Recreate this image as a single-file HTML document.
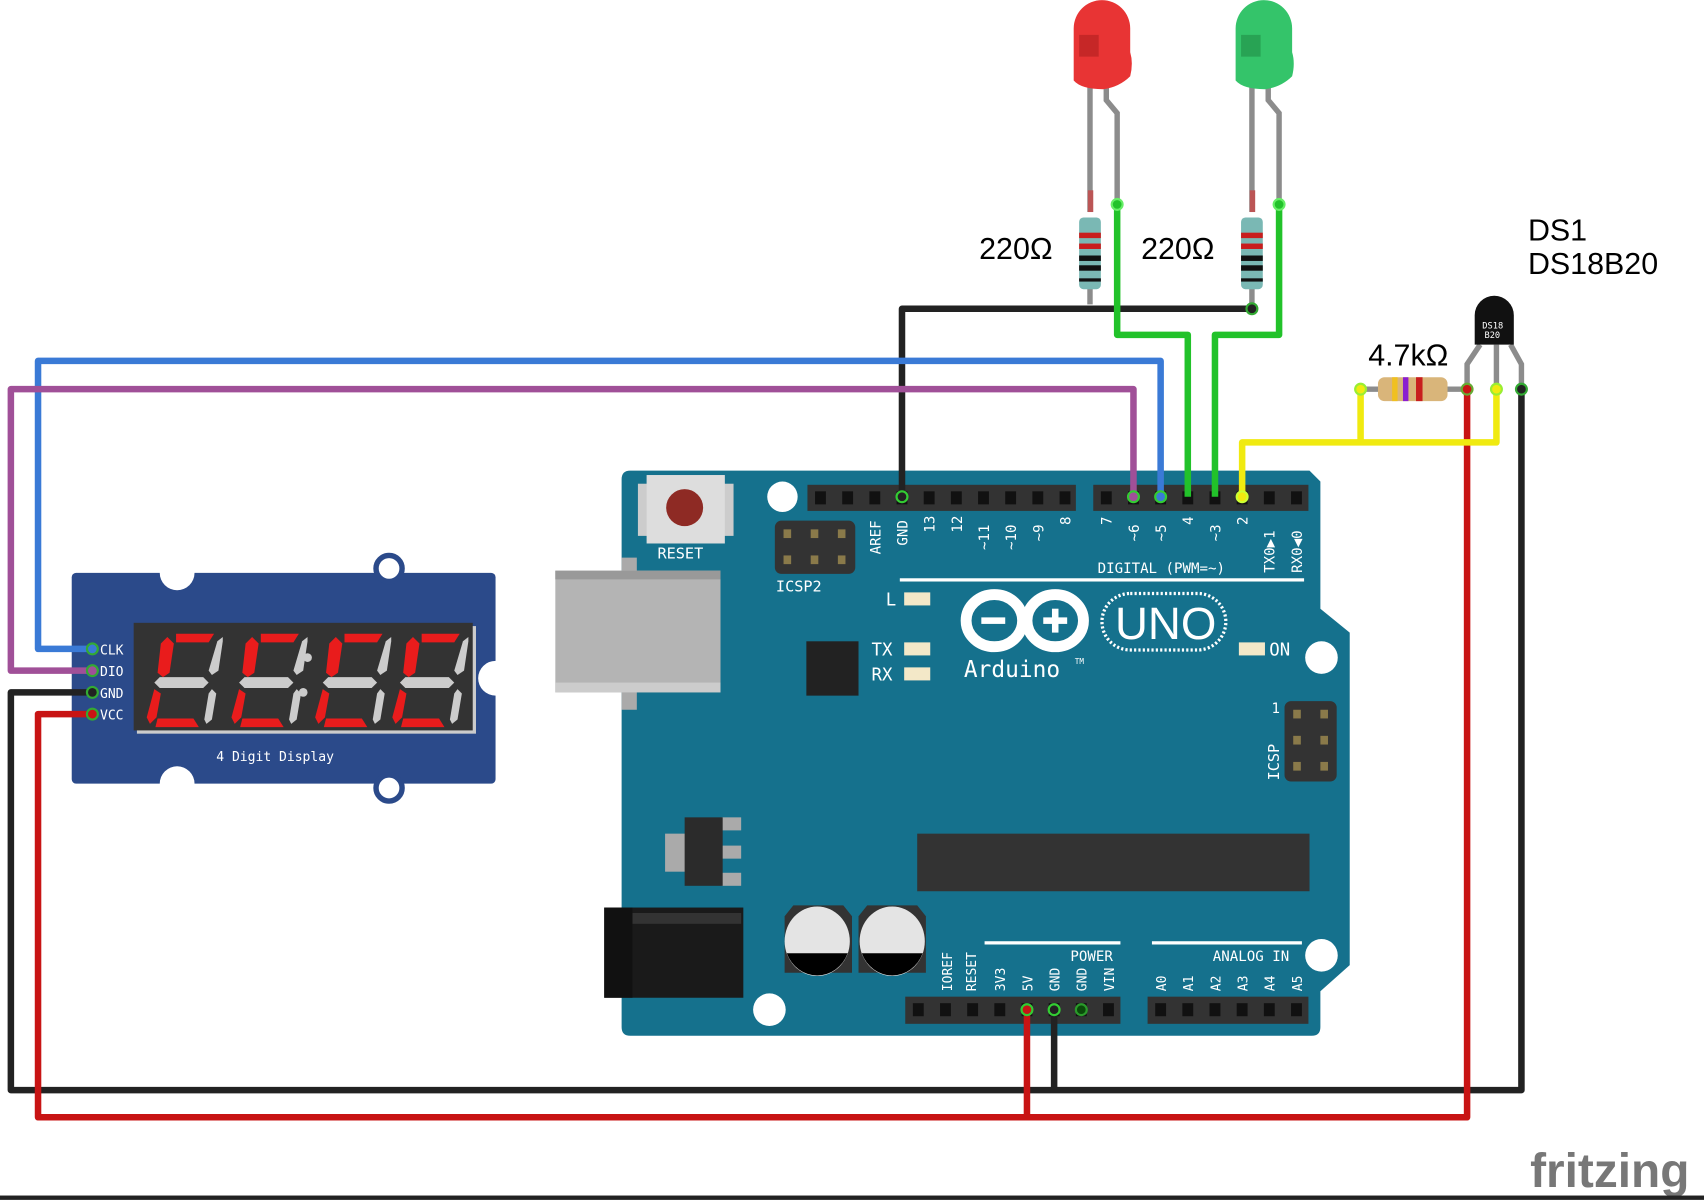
<!DOCTYPE html>
<html><head><meta charset="utf-8"><style>
html,body{margin:0;padding:0;background:#fff;width:1704px;height:1200px;overflow:hidden}
svg{display:block}
text{font-family:"Liberation Sans",sans-serif}
.m{font-family:"DejaVu Sans Mono","Liberation Mono",monospace;fill:#fff}
</style></head><body>
<svg width="1704" height="1200" viewBox="0 0 1568 1104" xmlns="http://www.w3.org/2000/svg">
<rect width="1568" height="1104" fill="#fff"/>
<path d="M580,433 H1205 L1215,443 V560 L1242,582 V888 L1215,912 V945 Q1215,953 1207,953 H580 Q572,953 572,945 V441 Q572,433 580,433Z" fill="#15718d"/>
<circle cx="720" cy="457" r="14" fill="#fff"/><circle cx="1216" cy="605" r="15" fill="#fff"/><circle cx="1216" cy="879" r="15" fill="#fff"/><circle cx="708" cy="929" r="15" fill="#fff"/>
<rect x="587" y="445" width="88" height="48" fill="#ccc"/><rect x="595" y="437" width="72" height="63" fill="#ddd"/>
<circle cx="630" cy="467" r="17" fill="#8e2a24"/>
<text x="605" y="514" class="m" font-size="14">RESET</text>
<rect x="713" y="479" width="74" height="49" rx="6" fill="#333"/>
<g fill="#8a7a4a"><rect x="721" y="487" width="7" height="8"/><rect x="746" y="487" width="7" height="8"/><rect x="771" y="487" width="7" height="8"/><rect x="721" y="511" width="7" height="8"/><rect x="746" y="511" width="7" height="8"/><rect x="771" y="511" width="7" height="8"/></g>
<text x="714" y="544" class="m" font-size="14">ICSP2</text>
<rect x="572" y="513" width="14" height="140" fill="#aaa"/>
<rect x="511" y="525" width="152" height="112" fill="#b4b4b4"/><rect x="511" y="525" width="152" height="8" fill="#999"/><rect x="511" y="628" width="152" height="9" fill="#ccc"/>
<rect x="742" y="590" width="48" height="50" fill="#222"/>
<rect x="743" y="446" width="247" height="24" fill="#333"/><rect x="1006" y="446" width="198" height="24" fill="#333"/>
<g fill="#111">
<rect x="750" y="452" width="10" height="12"/><rect x="775" y="452" width="10" height="12"/><rect x="800" y="452" width="10" height="12"/><rect x="825" y="452" width="10" height="12"/><rect x="850" y="452" width="10" height="12"/><rect x="875" y="452" width="10" height="12"/><rect x="900" y="452" width="10" height="12"/><rect x="925" y="452" width="10" height="12"/><rect x="950" y="452" width="10" height="12"/><rect x="975" y="452" width="10" height="12"/>
<rect x="1013" y="452" width="10" height="12"/><rect x="1038" y="452" width="10" height="12"/><rect x="1063" y="452" width="10" height="12"/><rect x="1088" y="452" width="10" height="12"/><rect x="1113" y="452" width="10" height="12"/><rect x="1138" y="452" width="10" height="12"/><rect x="1163" y="452" width="10" height="12"/><rect x="1188" y="452" width="10" height="12"/>
</g>
<g class="m" font-size="13">
<text transform="translate(810,510) rotate(-90)" class="m">AREF</text>
<text transform="translate(835,502) rotate(-90)" class="m">GND</text>
<text transform="translate(860,490) rotate(-90)" class="m">13</text>
<text transform="translate(885,490) rotate(-90)" class="m">12</text>
<text transform="translate(910,506) rotate(-90)" class="m">~11</text>
<text transform="translate(935,506) rotate(-90)" class="m">~10</text>
<text transform="translate(960,498) rotate(-90)" class="m">~9</text>
<text transform="translate(985,483) rotate(-90)" class="m">8</text>
<text transform="translate(1023,483) rotate(-90)" class="m">7</text>
<text transform="translate(1048,498) rotate(-90)" class="m">~6</text>
<text transform="translate(1073,498) rotate(-90)" class="m">~5</text>
<text transform="translate(1098,483) rotate(-90)" class="m">4</text>
<text transform="translate(1123,498) rotate(-90)" class="m">~3</text>
<text transform="translate(1148,483) rotate(-90)" class="m">2</text>
<text transform="translate(1173,527) rotate(-90)" class="m">TX0▶1</text>
<text transform="translate(1198,527) rotate(-90)" class="m">RX0◀0</text>
</g>
<text x="1010" y="527" class="m" font-size="13">DIGITAL (PWM=~)</text>
<rect x="828" y="532" width="372" height="3" fill="#fff"/>
<text x="815" y="557" class="m" font-size="16">L</text><rect x="832" y="545" width="24" height="12" fill="#f3e8c8"/>
<text x="802" y="603" class="m" font-size="16">TX</text><rect x="832" y="591" width="24" height="12" fill="#f3e8c8"/>
<text x="802" y="626" class="m" font-size="16">RX</text><rect x="832" y="614" width="24" height="12" fill="#f3e8c8"/>
<rect x="1140" y="591" width="24" height="12" fill="#f3e8c8"/><text x="1168" y="603" class="m" font-size="16">ON</text>
<g fill="none" stroke="#fff" stroke-width="10"><ellipse cx="915" cy="571" rx="26" ry="24"/><ellipse cx="971" cy="571" rx="26" ry="24"/></g>
<rect x="903" y="568" width="22" height="6" fill="#fff"/><rect x="960" y="568" width="22" height="6" fill="#fff"/><rect x="968" y="560" width="6" height="22" fill="#fff"/>
<rect x="1014" y="546" width="114" height="52" rx="26" fill="none" stroke="#fff" stroke-width="3" stroke-dasharray="2 2"/>
<text x="1026" y="588" font-size="42" fill="#fff" font-family="Liberation Sans">UNO</text>
<text x="887" y="623" class="m" font-size="21">Arduino</text><text x="989" y="611" class="m" font-size="7">TM</text>
<text x="1170" y="656" class="m" font-size="13">1</text>
<rect x="1182" y="645" width="48" height="74" rx="6" fill="#333"/>
<g fill="#8a7a4a"><rect x="1190" y="653" width="7" height="8"/><rect x="1215" y="653" width="7" height="8"/><rect x="1190" y="677" width="7" height="8"/><rect x="1215" y="677" width="7" height="8"/><rect x="1190" y="701" width="7" height="8"/><rect x="1215" y="701" width="7" height="8"/></g>
<text transform="translate(1177,718) rotate(-90)" class="m" font-size="14">ICSP</text>
<rect x="844" y="767" width="361" height="53" fill="#333"/>
<rect x="612" y="767" width="20" height="35" fill="#aaa"/><rect x="664" y="752" width="18" height="12" fill="#aaa"/><rect x="664" y="778" width="18" height="12" fill="#aaa"/><rect x="664" y="803" width="18" height="12" fill="#aaa"/>
<rect x="630" y="752" width="35" height="63" fill="#2b2b2b"/>
<rect x="556" y="835" width="128" height="83" fill="#1a1a1a"/><rect x="582" y="840" width="100" height="10" fill="#333"/><rect x="556" y="835" width="26" height="83" fill="#111"/>
<path d="M730,833 H776 L784,843 V895 H722 V843Z" fill="#333"/><ellipse cx="752" cy="866" rx="30" ry="32" fill="#e4e4e4"/><path d="M724,877 H780 A30,32 0 0 1 724,877Z" fill="#000"/>
<path d="M798,833 H844 L852,843 V895 H790 V843Z" fill="#333"/><ellipse cx="821" cy="866" rx="30" ry="32" fill="#e4e4e4"/><path d="M793,877 H849 A30,32 0 0 1 793,877Z" fill="#000"/>
<rect x="906" y="866" width="125" height="3" fill="#fff"/><rect x="1060" y="866" width="138" height="3" fill="#fff"/>
<text x="985" y="884" class="m" font-size="13">POWER</text><text x="1116" y="884" class="m" font-size="13">ANALOG IN</text>
<g class="m" font-size="12">
<text transform="translate(876,912) rotate(-90)" class="m">IOREF</text>
<text transform="translate(898,912) rotate(-90)" class="m">RESET</text>
<text transform="translate(925,912) rotate(-90)" class="m">3V3</text>
<text transform="translate(950,912) rotate(-90)" class="m">5V</text>
<text transform="translate(975,912) rotate(-90)" class="m">GND</text>
<text transform="translate(1000,912) rotate(-90)" class="m">GND</text>
<text transform="translate(1025,912) rotate(-90)" class="m">VIN</text>
<text transform="translate(1073,912) rotate(-90)" class="m">A0</text>
<text transform="translate(1098,912) rotate(-90)" class="m">A1</text>
<text transform="translate(1123,912) rotate(-90)" class="m">A2</text>
<text transform="translate(1148,912) rotate(-90)" class="m">A3</text>
<text transform="translate(1173,912) rotate(-90)" class="m">A4</text>
<text transform="translate(1198,912) rotate(-90)" class="m">A5</text>
</g>
<rect x="833" y="917" width="198" height="25" fill="#333"/><rect x="1056" y="917" width="148" height="25" fill="#333"/>
<g fill="#111">
<rect x="840" y="923" width="10" height="12"/><rect x="865" y="923" width="10" height="12"/><rect x="890" y="923" width="10" height="12"/><rect x="915" y="923" width="10" height="12"/><rect x="940" y="923" width="10" height="12"/><rect x="965" y="923" width="10" height="12"/><rect x="990" y="923" width="10" height="12"/><rect x="1015" y="923" width="10" height="12"/>
<rect x="1063" y="923" width="10" height="12"/><rect x="1088" y="923" width="10" height="12"/><rect x="1113" y="923" width="10" height="12"/><rect x="1138" y="923" width="10" height="12"/><rect x="1163" y="923" width="10" height="12"/><rect x="1188" y="923" width="10" height="12"/>
</g>
<circle cx="995" cy="929" r="5" fill="#0a4a0a" stroke="#2a9a2a" stroke-width="2"/>
<rect x="66" y="527" width="390" height="194" rx="4" fill="#2b4a8a"/>
<circle cx="163" cy="527" r="16" fill="#fff"/><circle cx="163" cy="721" r="16" fill="#fff"/><circle cx="456" cy="624" r="16" fill="#fff"/>
<circle cx="358" cy="523" r="12" fill="#fff" stroke="#2b4a8a" stroke-width="5"/><circle cx="358" cy="725" r="12" fill="#fff" stroke="#2b4a8a" stroke-width="5"/>
<rect x="126" y="576" width="312" height="99" fill="#ccc"/><rect x="123" y="573" width="312" height="99" fill="#333"/>
<g id="dg">
<path d="M162,583 h35 l-5,8 h-30 z" fill="#e91c1c"/>
<path d="M148,592 l6,-6 l6,6 l-4,27 l-6,4 l-5,-4z" fill="#e91c1c"/>
<path d="M200,590 l5,-4 l0,4 l-4,27 l-6,4 l-3,-4z" fill="#ccc"/>
<path d="M147,623 h40 l5,5 l-5,5 h-40 l-5,-5z" fill="#ccc"/>
<path d="M142,634 l6,4 l-4,22 l-6,6 l-3,-6z" fill="#e91c1c"/>
<path d="M195,634 l4,4 l-4,24 l-5,4 l-2,-4 l4,-24z" fill="#ccc"/>
<path d="M145,661 h33 l5,8 h-40z" fill="#e91c1c"/>
</g>
<use href="#dg" x="78"/><use href="#dg" x="155"/><use href="#dg" x="226"/>
<circle cx="283" cy="605" r="4" fill="#ccc"/><circle cx="279" cy="637" r="4" fill="#ccc"/>
<text x="199" y="700" class="m" font-size="12">4 Digit Display</text>
<g class="m" font-size="12"><text x="92" y="602" class="m">CLK</text><text x="92" y="622" class="m">DIO</text><text x="92" y="642" class="m">GND</text><text x="92" y="662" class="m">VCC</text></g>
<g fill="none" stroke="#8c8c8c" stroke-width="5">
<path d="M1003,78 V195"/><path d="M1018,80 V92 L1028,104 V185"/>
<path d="M1152,78 V195"/><path d="M1167,80 V92 L1177,104 V185"/>
<path d="M1003,260 V280"/><path d="M1152,260 V280"/>
<path d="M1362,317 L1350,335 V358"/><path d="M1377,317 V358"/><path d="M1390,317 L1400,335 V358"/>
<path d="M1252,358 H1350"/>
</g>
<rect x="1001" y="175" width="5" height="20" fill="#b55"/><rect x="1150" y="175" width="5" height="20" fill="#b55"/>
<path d="M988,78 V26 A26,26 0 0 1 1040,26 V48 Q1043,58 1040,70 Q1030,80 1015,82 Q995,82 988,74Z" fill="#e83434"/>
<path d="M993,32 h18 v20 h-18z" fill="#b82222" opacity=".7"/>
<path d="M1137,78 V26 A26,26 0 0 1 1189,26 V48 Q1192,58 1189,70 Q1179,80 1164,82 Q1144,82 1137,74Z" fill="#34c46a"/>
<path d="M1142,32 h18 v20 h-18z" fill="#23954c" opacity=".7"/>
<g id="rs"><rect x="993" y="200" width="20" height="66" rx="4" fill="#7ab8b4"/>
<rect x="993" y="214" width="20" height="5" fill="#c81e1e"/><rect x="993" y="224" width="20" height="5" fill="#c81e1e"/><rect x="993" y="235" width="20" height="5" fill="#111"/><rect x="993" y="244" width="20" height="5" fill="#111"/><rect x="993" y="256" width="20" height="3" fill="#111"/></g>
<use href="#rs" x="149"/>
<rect x="1268" y="347" width="64" height="22" rx="6" fill="#d9b57a"/>
<rect x="1281" y="347" width="5" height="22" fill="#f0c020"/><rect x="1291" y="347" width="5" height="22" fill="#8a1ed0"/><rect x="1303" y="347" width="6" height="22" fill="#c81e1e"/>
<path d="M1357,317 V290 A18,18 0 0 1 1393,290 V317Z" fill="#111"/>
<text x="1364" y="302" font-size="8" class="m">DS18</text><text x="1366" y="311" font-size="8" class="m">B20</text>
<g fill="none" stroke-width="6" stroke-linejoin="round">
<path d="M830,457 V284 H1152" stroke="#222"/>
<path d="M1028,185 V308 H1093 V457" stroke="#22c22a"/>
<path d="M1177,185 V308 H1118 V457" stroke="#22c22a"/>
<path d="M1068,457 V332 H35 V597 H85" stroke="#3a7ad6"/>
<path d="M1043,457 V358 H10 V617 H85" stroke="#a05098"/>
<path d="M85,637 H10 V1003 H1400 V358" stroke="#222"/>
<path d="M970,930 V1003" stroke="#222"/>
<path d="M85,657 H35 V1028 H1350 V358" stroke="#c81414"/>
<path d="M945,930 V1028" stroke="#c81414"/>
<path d="M1143,457 V407 H1377 V358" stroke="#f0ea10"/>
<path d="M1252,358 V407" stroke="#f0ea10"/>
</g>
<g stroke-width="2">
<circle cx="830" cy="457" r="5" fill="#222" stroke="#3c3"/><circle cx="1043" cy="457" r="5" fill="#a05098" stroke="#3c3"/><circle cx="1068" cy="457" r="5" fill="#3a7ad6" stroke="#3c3"/><circle cx="1143" cy="457" r="5" fill="#f0ea10" stroke="#cf3"/><circle cx="945" cy="929" r="5" fill="#c81414" stroke="#3c3"/><circle cx="970" cy="929" r="5" fill="#222" stroke="#3c3"/>
<circle cx="85" cy="597" r="5" fill="#3a7ad6" stroke="#3a3"/><circle cx="85" cy="617" r="5" fill="#a05098" stroke="#3a3"/><circle cx="85" cy="637" r="5" fill="#222" stroke="#3a3"/><circle cx="85" cy="657" r="5" fill="#c81414" stroke="#3a3"/>
<circle cx="1252" cy="358" r="5" fill="#f0ea10" stroke="#9e3"/><circle cx="1350" cy="358" r="5" fill="#c81414" stroke="#6a3"/><circle cx="1377" cy="358" r="5" fill="#f0ea10" stroke="#9e3"/><circle cx="1400" cy="358" r="5" fill="#222" stroke="#3a3"/>
<circle cx="1028" cy="188" r="5" fill="#22c22a" stroke="#6e6"/><circle cx="1177" cy="188" r="5" fill="#22c22a" stroke="#6e6"/><circle cx="1152" cy="284" r="5" fill="#222" stroke="#3a3"/>
</g>
<text x="901" y="238" font-size="28">220Ω</text>
<text x="1050" y="238" font-size="28">220Ω</text>
<text x="1259" y="336" font-size="28">4.7kΩ</text>
<text x="1406" y="221" font-size="28">DS1</text>
<text x="1406" y="252" font-size="28">DS18B20</text>
<text x="1408" y="1092" font-size="44" font-weight="bold" fill="#777" font-family="DejaVu Sans,sans-serif">fritzing</text>
<rect x="0" y="1100" width="1568" height="4" fill="#222"/>
</svg>
</body></html>
